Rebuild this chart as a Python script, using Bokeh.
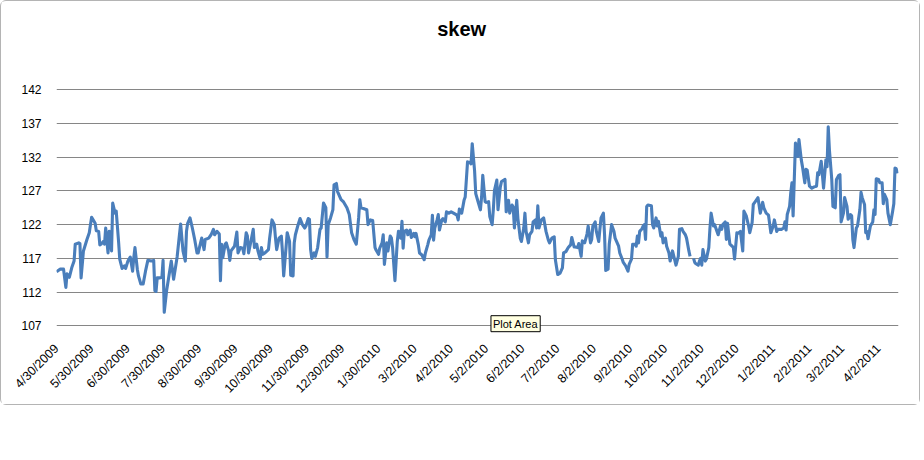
import numpy as np
import pandas as pd
from bokeh.plotting import figure
from bokeh.models import Range1d, FixedTicker, Label, ColumnDataSource
from bokeh.embed import file_html
from bokeh.resources import INLINE

# ---- data ----
start_date = "2009-04-30"
day_offset = [
    0, 3, 6, 8, 9, 11, 13, 15, 16, 19, 20, 21, 23, 26, 28, 29, 30, 33, 34, 36, 37, 38, 40, 41, 42, 44, 45, 46, 47, 48,
    50, 51, 53, 54, 56, 58, 59, 61, 63, 65, 66, 67, 69, 70, 72, 74, 76, 78, 81, 83, 84, 85, 86, 88, 90, 91, 92, 94, 96, 98,
    100, 102, 103, 105, 106, 108, 110, 111, 112, 114, 116, 118, 120, 121, 123, 124, 126, 127, 130, 132, 134, 135, 137, 139, 140, 141, 142, 144, 145,
    147, 148, 149, 152, 154, 155, 157, 159, 160, 162, 163, 164, 166, 168, 169, 171, 172, 174, 175, 176, 178, 181, 182, 184, 186, 187, 188, 190, 192, 193,
    194, 196, 197, 199, 200, 202, 203, 204, 206, 208, 210, 212, 213, 215, 216, 217, 218, 220, 221, 223, 225, 226, 228, 230, 231, 232, 234, 236, 237, 239,
    240, 243, 245, 248, 250, 252, 254, 256, 258, 259, 260, 262, 265, 266, 268, 270, 272, 273, 275, 276, 278, 279, 280, 282, 283, 285, 286, 287, 289, 290,
    291, 292, 294, 295, 296, 297, 299, 300, 302, 303, 305, 306, 307, 309, 310, 312, 314, 315, 317, 318, 320, 321, 322, 323, 325, 326, 327, 329, 330, 332,
    333, 335, 337, 339, 342, 343, 344, 346, 348, 349, 351, 353, 354, 355, 357, 358, 360, 362, 363, 364, 366, 367, 369, 370, 372, 373, 374, 376, 377, 379,
    380, 383, 384, 386, 387, 389, 390, 391, 393, 394, 396, 397, 399, 400, 401, 403, 404, 406, 407, 409, 410, 411, 412, 414, 416, 417, 418, 420, 421, 423,
    425, 426, 428, 430, 432, 433, 435, 437, 439, 440, 442, 443, 445, 446, 448, 449, 451, 453, 454, 456, 457, 458, 460, 461, 463, 464, 465, 467, 468, 469,
    471, 472, 474, 476, 477, 480, 481, 483, 484, 486, 488, 489, 491, 492, 494, 495, 496, 497, 498, 500, 501, 502, 503, 504, 505, 508, 509, 510, 512, 513,
    514, 516, 517, 518, 520, 521, 523, 524, 526, 528, 529, 531, 532, 534, 535, 537, 538, 540, 541, 542, 544, 545, 546, 548, 549, 550, 551, 552, 554, 555,
    557, 558, 559, 561, 562, 564, 565, 567, 568, 569, 571, 572, 573, 575, 577, 578, 579, 581, 582, 584, 586, 587, 589, 591, 592, 594, 595, 597, 599, 601,
    603, 604, 606, 608, 610, 612, 613, 615, 616, 619, 621, 622, 623, 624, 626, 627, 628, 629, 630, 631, 633, 634, 636, 637, 639, 640, 641, 643, 645, 647,
    649, 650, 651, 653, 654, 655, 657, 658, 659, 660, 662, 663, 665, 666, 668, 669, 670, 672, 673, 675, 676, 678, 679, 680, 681, 683, 684, 686, 687, 688,
    690, 691, 692, 693, 695, 697, 698, 699, 700, 702, 703, 705, 706, 707, 709, 710, 712, 714, 715, 716, 717, 718,
]
skew = [
    115.0, 115.4, 115.4, 112.7, 114.7, 114.2, 115.6, 116.6, 119.1, 119.3, 119.2, 114.1, 118.1, 119.8, 120.8, 122.0, 123.1, 122.2, 121.1, 121.0, 119.0, 119.1, 119.5, 119.1, 121.5, 117.8, 121.0, 120.0, 118.1, 125.2,
    123.7, 124.0, 119.5, 116.9, 115.5, 115.9, 115.5, 116.6, 117.2, 115.1, 117.1, 118.6, 115.4, 114.4, 113.2, 113.2, 115.1, 116.7, 116.6, 116.7, 112.2, 112.1, 114.1, 114.1, 114.2, 116.7, 109.0, 112.2, 114.4, 116.6,
    113.9, 116.1, 117.2, 120.5, 122.1, 118.1, 116.6, 121.0, 122.2, 123.0, 121.5, 119.8, 117.8, 117.8, 119.3, 120.0, 118.3, 119.8, 120.0, 120.5, 121.3, 120.5, 121.0, 120.6, 113.7, 119.1, 117.1, 119.1, 119.3,
    118.1, 116.7, 118.1, 118.8, 120.9, 117.8, 118.6, 118.5, 117.7, 120.8, 120.3, 117.8, 119.5, 121.3, 118.6, 119.1, 118.1, 116.9, 118.6, 117.6, 117.8, 118.3, 120.0, 122.7, 122.0, 120.0, 118.3, 120.0, 120.3, 117.8,
    114.4, 118.6, 120.8, 119.5, 114.5, 114.4, 119.3, 120.5, 121.8, 122.9, 122.0, 121.5, 121.8, 122.9, 122.8, 118.3, 117.0, 117.8, 117.3, 118.6, 121.3, 121.5, 125.2, 124.5, 117.2, 122.0, 123.0, 124.2, 127.9, 128.1,
    126.9, 125.7, 125.4, 124.5, 123.5, 120.8, 119.8, 119.1, 123.0, 125.7, 124.5, 124.4, 124.2, 122.0, 122.7, 122.6, 118.6, 118.2, 117.6, 118.5, 119.3, 120.5, 116.1, 119.3, 118.1, 120.3, 120.0, 118.6, 113.7, 116.6,
    119.5, 121.0, 120.0, 122.5, 118.5, 121.0, 121.2, 120.5, 121.2, 120.1, 120.7, 120.2, 120.7, 119.0, 117.8, 117.5, 116.8, 117.8, 119.0, 119.7, 120.5, 123.4, 119.7, 121.5, 122.7, 123.5, 121.2, 122.7, 122.9, 122.4,
    123.9, 123.7, 123.9, 123.7, 123.4, 122.7, 124.3, 123.7, 125.6, 126.1, 131.3, 131.2, 131.0, 134.0, 130.0, 126.6, 125.4, 124.2, 126.1, 129.3, 125.4, 125.3, 125.4, 123.2, 122.0, 124.2, 127.1, 128.6, 124.2, 127.6,
    128.4, 128.7, 123.9, 125.6, 123.7, 124.9, 124.6, 121.5, 125.6, 122.9, 120.0, 119.5, 121.5, 123.7, 121.0, 119.3, 120.5, 121.0, 122.4, 122.7, 121.5, 124.8, 121.5, 122.7, 123.0, 122.0, 121.0, 119.7, 119.3, 120.0,
    120.2, 116.8, 114.6, 114.8, 115.6, 117.8, 118.0, 118.6, 119.0, 120.1, 118.7, 118.7, 118.6, 119.2, 117.3, 119.6, 119.3, 120.6, 121.8, 119.3, 119.8, 121.8, 122.4, 121.0, 119.5, 121.3, 123.0, 123.7, 120.5, 115.2,
    115.4, 119.1, 122.0, 121.0, 120.0, 118.8, 117.8, 116.9, 116.4, 115.9, 115.1, 116.1, 116.9, 119.1, 119.1, 118.8, 120.3, 119.3, 121.0, 121.4, 121.8, 122.0, 119.8, 124.7, 124.9, 124.8, 122.0, 121.5, 123.0, 121.8,
    122.5, 120.3, 120.8, 119.3, 120.0, 118.8, 117.8, 116.6, 118.1, 116.7, 116.0, 117.3, 121.3, 121.4, 121.0, 120.5, 120.0, 118.1, 117.3, np.nan, 117.0, 116.4, 116.2, 116.0, 116.6, 117.0, 116.0, 118.3, 116.6, 116.9,
    118.6, 121.5, 123.7, 121.8, 122.0, 121.0, 120.5, 121.8, 121.3, 122.0, 122.4, 119.8, 122.2, 119.1, 118.8, 118.6, 116.9, 120.8, 120.7, 121.0, 118.1, 124.0, 123.3, 121.8, 120.8, 122.3, 125.0, 125.5, 126.0, 123.7,
    125.3, 124.5, 123.7, 123.4, 120.8, 121.8, 122.7, 121.0, 121.3, 121.3, 121.5, 122.4, 121.2, 123.5, 124.7, 126.7, 128.2, 123.3, 128.7, 134.1, 132.1, 134.6, 131.6, 130.6, 128.2, 130.2, 130.1, 127.7, 127.4, 127.6,
    127.7, 129.7, 129.4, 131.4, 129.4, 127.4, 131.6, 130.6, 136.5, 133.1, 128.7, 124.7, 124.5, 128.7, 129.3, 129.4, 122.4, 123.7, 126.0, 124.7, 122.8, 123.5, 123.3, 119.8, 118.6, 121.5, 121.8, 124.2, 126.8, 126.0,
    125.0, 120.8, 121.0, 119.9, 121.8, 122.4, 124.2, 123.5, 128.8, 128.7, 128.2, 128.2, 125.1, 126.5, 125.7, 123.7, 122.0, 124.0, 125.1, 130.4, 130.3, 129.6,
]
y_ticks = [107, 112, 117, 122, 127, 132, 137, 142]
x_tick_labels = [
    "4/30/2009", "5/30/2009", "6/30/2009", "7/30/2009", "8/30/2009", "9/30/2009",
    "10/30/2009", "11/30/2009", "12/30/2009", "1/30/2010", "3/2/2010", "4/2/2010",
    "5/2/2010", "6/2/2010", "7/2/2010", "8/2/2010", "9/2/2010", "10/2/2010",
    "11/2/2010", "12/2/2010", "1/2/2011", "2/2/2011", "3/2/2011", "4/2/2011",
]
title_text = "skew"
axis_end_date = "2011-04-19"

dates = pd.Timestamp(start_date) + pd.to_timedelta(day_offset, unit="D")
src = ColumnDataSource(dict(date=dates, skew=skew))

tick_dt = pd.to_datetime(x_tick_labels, format="%m/%d/%Y")
tick_ms = [int(t.value // 10**6) for t in tick_dt]

FONT = "Liberation Sans"
t0 = pd.Timestamp(start_date)

# The frame is stretched a little above 142 and below 107 so that the title
# and the "Plot Area" tip (drawn as labels) are not clipped.
p = figure(
    width=920, height=405,
    x_axis_type="datetime",
    x_range=Range1d(t0, pd.Timestamp(axis_end_date)),
    y_range=Range1d(105.86, 153.6),
    output_backend="svg", toolbar_location=None,
    min_border_left=55, min_border_right=23, min_border_top=10, min_border_bottom=73,
    styles={"border": "1px solid #b4b4b4", "border-radius": "6px"},
)

p.outline_line_color = None
p.background_fill_color = "white"
p.border_fill_color = "white"

p.line("date", "skew", source=src, line_color="#4a7ebb", line_width=3.1, line_join="round")

# y axis
p.yaxis.ticker = FixedTicker(ticks=y_ticks)
p.yaxis.axis_line_color = None
p.yaxis.major_tick_line_color = None
p.yaxis.minor_tick_line_color = None
p.yaxis.major_label_standoff = 9
p.yaxis.major_label_text_font = FONT
p.yaxis.major_label_text_font_size = "12px"
p.yaxis.major_label_text_color = "#000000"

# x axis
p.xaxis.ticker = FixedTicker(ticks=tick_ms)
p.xaxis.major_label_overrides = {ms: lab for ms, lab in zip(tick_ms, x_tick_labels)}
p.xaxis.major_label_orientation = np.pi / 4
p.xaxis.axis_line_color = None
p.xaxis.major_tick_line_color = None
p.xaxis.minor_tick_line_color = None
p.xaxis.major_label_standoff = 7
p.xaxis.major_label_text_font = FONT
p.xaxis.major_label_text_font_size = "12.5px"
p.xaxis.major_label_text_color = "#000000"

p.xgrid.grid_line_color = None
p.ygrid.grid_line_color = "#868686"
p.ygrid.grid_line_width = 1

title = Label(
    x=t0 + pd.Timedelta(days=346), y=150.95,
    text=title_text, text_font=FONT, text_font_size="20px", text_font_style="bold",
    text_color="#000000", text_align="center", text_baseline="alphabetic",
)
p.add_layout(title)

tip = Label(
    x=t0 + pd.Timedelta(days=371), y=108.5,
    text="Plot Area", text_font=FONT, text_font_size="11px", text_color="#000000",
    text_align="left", text_baseline="top",
    background_fill_color="#ffffe1", border_line_color="#000000", border_line_width=1,
    padding=2,
)
p.add_layout(tip)

open("out.html", "w").write(file_html(p, INLINE))
